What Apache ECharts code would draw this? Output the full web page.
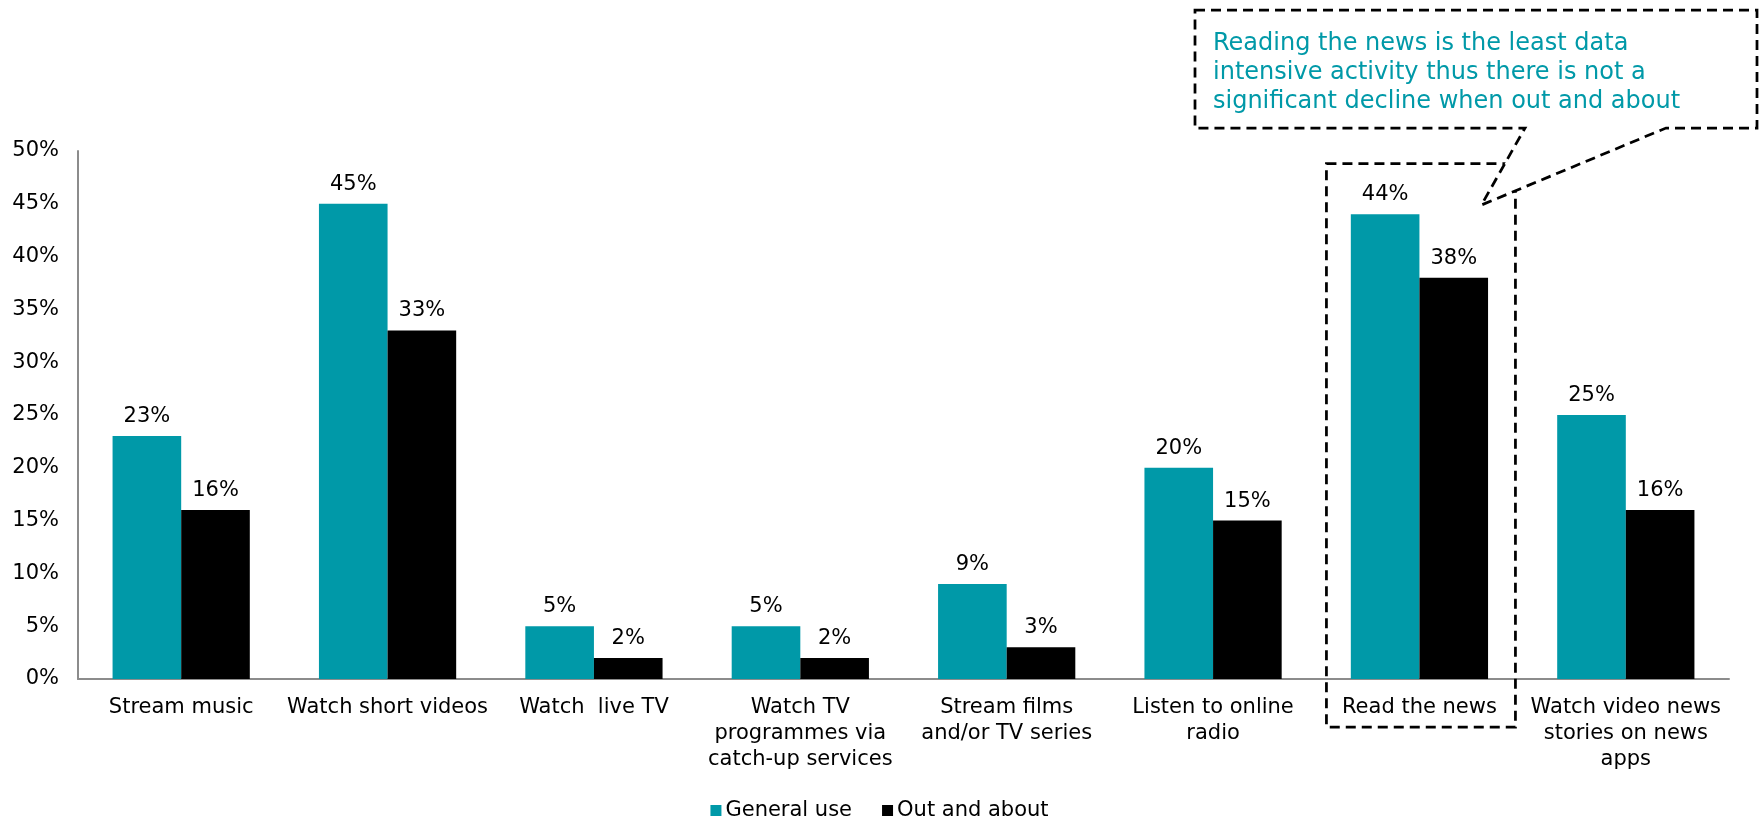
<!DOCTYPE html>
<html>
<head>
<meta charset="utf-8">
<script src="https://cdn.jsdelivr.net/npm/echarts@6/dist/echarts.min.js"></script>
<style>
  html, body { margin: 0; padding: 0; background: #ffffff; }
  #chart { width: 1759px; height: 821px; }
</style>
</head>
<body>
<div id="chart"></div>
<script>
// Activities on mobile data: general use vs. out and about (%)
const categories = [
  'Stream music',
  'Watch short videos',
  'Watch  live TV',
  'Watch TV\nprogrammes via\ncatch-up services',
  'Stream films\nand/or TV series',
  'Listen to online\nradio',
  'Read the news',
  'Watch video news\nstories on news\napps'
];
const generalUse = [23, 45, 5, 5, 9, 20, 44, 25];
const outAndAbout = [16, 33, 2, 2, 3, 15, 38, 16];
const seriesNames = ['General use', 'Out and about'];
const calloutLines = [
  'Reading the news is the least data',
  'intensive activity thus there is not a',
  'significant decline when out and about'
];
const highlightIndex = 6;

const TEAL = '#0099a8';
const FONT = '"DejaVu Sans", Verdana, sans-serif';

const chart = echarts.init(document.getElementById('chart'), null, { renderer: 'canvas' });

const barLabel = {
  show: true,
  position: 'top',
  distance: 9,
  color: '#000',
  fontFamily: FONT,
  fontSize: 21,
  formatter: p => p.value + '%'
};

chart.setOption({
  animation: false,
  backgroundColor: '#ffffff',
  textStyle: { fontFamily: FONT },
  grid: { left: 78, right: 30, top: 151, bottom: 142, containLabel: false },
  legend: {
    data: seriesNames,
    left: 'center',
    top: 795,
    icon: 'rect',
    itemWidth: 11,
    itemHeight: 11,
    itemGap: 30,
    textStyle: { color: '#000', fontSize: 21, fontFamily: FONT, padding: [0, 0, 0, -1] }
  },
  xAxis: {
    type: 'category',
    data: categories,
    axisLine: { lineStyle: { color: '#8c8c8c', width: 2 } },
    axisTick: { show: false },
    axisLabel: {
      interval: 0,
      color: '#000',
      fontSize: 21,
      fontFamily: FONT,
      lineHeight: 26,
      margin: 16,
      align: 'center'
    }
  },
  yAxis: {
    type: 'value',
    min: 0,
    max: 50,
    interval: 5,
    axisLine: { show: true, lineStyle: { color: '#8c8c8c', width: 2 } },
    axisTick: { show: false },
    splitLine: { show: false },
    axisLabel: {
      color: '#000',
      fontSize: 21,
      fontFamily: FONT,
      margin: 19,
      formatter: v => v + '%'
    }
  },
  series: [
    {
      name: seriesNames[0],
      type: 'bar',
      data: generalUse,
      barGap: '0%',
      barCategoryGap: '33.5%',
      itemStyle: { color: TEAL },
      label: barLabel
    },
    {
      name: seriesNames[1],
      type: 'bar',
      data: outAndAbout,
      itemStyle: { color: '#000000' },
      label: barLabel
    }
  ]
});

// Dashed frame around the highlighted category and the callout pointing at it
const center = chart.convertToPixel({ xAxisIndex: 0 }, categories[highlightIndex]);
const boxTop = chart.convertToPixel({ yAxisIndex: 0 }, 48.8);
const dash = { stroke: '#000', lineWidth: 2.75, lineDash: [10, 6], fill: null };

const frame = {
  type: 'rect',
  shape: { x: center - 93, y: boxTop, width: 189, height: 727 - boxTop },
  style: dash,
  z: 50
};

const tip = [center + 62, 205];
const bubble = {
  type: 'polygon',
  shape: {
    points: [
      [1195, 10], [1757, 10], [1757, 128],
      [1666, 128], tip, [1525, 128], [1195, 128]
    ]
  },
  style: Object.assign({}, dash, { fill: '#ffffff' }),
  z: 60
};

const bubbleText = {
  type: 'text',
  left: 1213,
  top: 29,
  style: {
    text: calloutLines.join('\n'),
    fill: TEAL,
    font: '24px ' + FONT,
    lineHeight: 29
  },
  z: 70
};

chart.setOption({ graphic: [frame, bubble, bubbleText] });
</script>
</body>
</html>
